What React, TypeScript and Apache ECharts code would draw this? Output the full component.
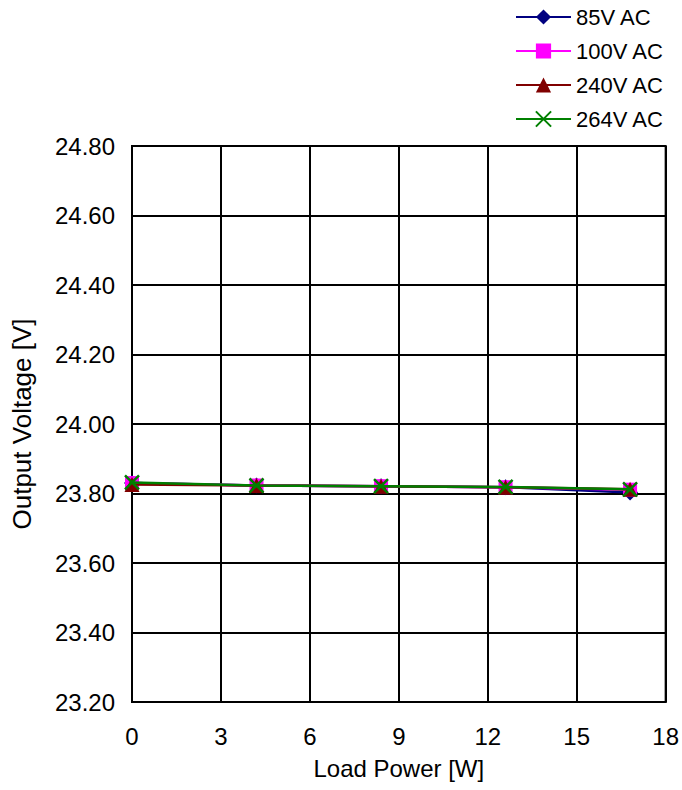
import React, { useEffect, useRef } from "react";
import * as echarts from "echarts";

const loadPower = [0, 4.2, 8.4, 12.6, 16.8];
const v85 = [23.83, 23.823, 23.821, 23.818, 23.803];
const v100 = [23.83, 23.823, 23.821, 23.818, 23.811];
const v240 = [23.826, 23.823, 23.821, 23.818, 23.812];
const v264 = [23.832, 23.823, 23.821, 23.819, 23.812];
const seriesNames = ["85V AC", "100V AC", "240V AC", "264V AC"];
const seriesColors = ["#000080", "#FF00FF", "#800000", "#008000"];
const seriesSymbols = ["diamond", "rect", "triangle", "path://M0,0L10,10M10,0L0,10"];
const seriesSizes = [16, 14, 15, 14];

const FONT = "Liberation Sans, Arial, sans-serif";

export default function App() {
  const ref = useRef<HTMLDivElement>(null);
  useEffect(() => {
    document.body.style.margin = "0";
    if (!ref.current) return;
    const chart = echarts.init(ref.current, undefined, { renderer: "svg" });
    const values = [v85, v100, v240, v264];
    chart.setOption({
      animation: false,
      backgroundColor: "#ffffff",
      textStyle: { fontFamily: FONT },
      legend: {
        orient: "vertical",
        left: 515,
        top: 6,
        padding: 0,
        itemWidth: 55,
        itemHeight: 19,
        itemGap: 12,
        lineStyle: { width: 2 },
        textStyle: { fontSize: 22, color: "#000", fontFamily: FONT, lineHeight: 22, padding: [0, 0, 0, 0] },
        data: seriesNames,
      },
      grid: { left: 132, right: 15, top: 146, bottom: 88, show: true, borderColor: "#000", borderWidth: 2 },
      xAxis: {
        type: "value",
        min: 0,
        max: 18,
        interval: 3,
        name: "Load Power [W]",
        nameLocation: "middle",
        nameGap: 54,
        nameTextStyle: { fontSize: 24, color: "#000", fontFamily: FONT },
        axisLine: { lineStyle: { color: "#000", width: 2 } },
        axisTick: { show: false },
        axisLabel: { fontSize: 24, color: "#000", margin: 22, fontFamily: FONT },
        splitLine: { show: true, lineStyle: { color: "#000", width: 2 } },
      },
      yAxis: {
        type: "value",
        min: 23.2,
        max: 24.8,
        interval: 0.2,
        name: "Output Voltage [V]",
        nameLocation: "middle",
        nameGap: 97,
        nameTextStyle: { fontSize: 26, color: "#000", fontFamily: FONT },
        axisLine: { show: true, lineStyle: { color: "#000", width: 2 } },
        axisTick: { show: false },
        axisLabel: {
          fontSize: 24,
          color: "#000",
          margin: 17,
          fontFamily: FONT,
          formatter: (v: number) => v.toFixed(2),
        },
        splitLine: { show: true, lineStyle: { color: "#000", width: 2 } },
      },
      series: seriesNames.map((name, i) => ({
        name,
        type: "line",
        data: loadPower.map((x, j) => [x, values[i][j]]),
        symbol: seriesSymbols[i],
        symbolSize: seriesSizes[i],
        showAllSymbol: true,
        lineStyle: { color: seriesColors[i], width: 2.5 },
        itemStyle:
          i === 3
            ? { color: seriesColors[i], borderColor: seriesColors[i], borderWidth: 2.5 }
            : { color: seriesColors[i], borderColor: seriesColors[i], borderWidth: 0 },
        emphasis: { disabled: true },
        z: 2 + i,
      })),
    });
    return () => chart.dispose();
  }, []);
  return <div ref={ref} style={{ width: 682, height: 790 }} />;
}
